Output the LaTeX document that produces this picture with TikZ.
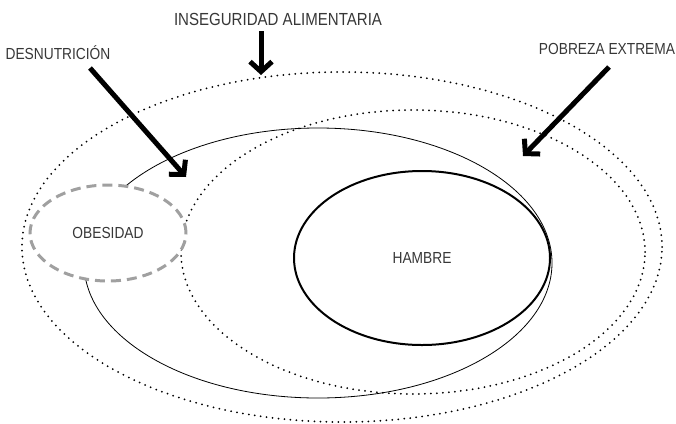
\documentclass[tikz,border=0pt]{standalone}
\usepackage{fontspec}
\setmainfont[FakeStretch=0.86]{Liberation Sans}
\usetikzlibrary{arrows.meta,shapes.geometric}
\definecolor{gristexto}{RGB}{55,55,55}
\definecolor{grisobes}{RGB}{160,160,160}

\begin{document}
\begin{tikzpicture}[x=1pt,y=-1pt,
  etiq/.style={font=\fontsize{16}{18}\selectfont,text=gristexto,inner sep=0pt},
  punteado/.style={line width=2pt,dash pattern=on 0pt off 6pt,line cap=round},
  flecha/.style={line width=5pt,-{Straight Barb[length=10pt,width=22pt]}}]
\useasboundingbox (0,0) rectangle (676,423);
% conjuntos
\draw [punteado] (342,247) ellipse [x radius=320pt,y radius=175pt];
\draw [punteado] (413,252) ellipse [x radius=232pt,y radius=142pt];
\draw [line width=0.8pt] (318,263) ellipse [x radius=234pt,y radius=135pt];
\node [ellipse,draw,line width=2pt,minimum width=256pt,minimum height=174pt,etiq] (hambre) at (422,258) {HAMBRE};
\node [ellipse,draw=grisobes,fill=white,line width=3pt,dash pattern=on 10pt off 6pt,
       minimum width=156pt,minimum height=96pt,etiq] (obesidad) at (108,233) {OBESIDAD};
% etiquetas
\node [etiq,font=\fontsize{17.5}{20}\selectfont] (insa) at (278,19) {INSEGURIDAD ALIMENTARIA};
\node [etiq] (desnu) at (58,53) {DESNUTRICIÓN};
\node [etiq] (pobre) at (607,49) {POBREZA EXTREMA};
\coordinate (insaA) at (261,31);
\coordinate (insaB) at (261,75);
\coordinate (desnuA) at (90,68);
\coordinate (desnuB) at (186,177);
\coordinate (pobreA) at (609,67);
\coordinate (pobreB) at (523,156);
% flechas
\draw [flecha] (insaA) -- (insaB);
\draw [flecha] (desnuA) -- (desnuB);
\draw [flecha] (pobreA) -- (pobreB);
\end{tikzpicture}
\end{document}
